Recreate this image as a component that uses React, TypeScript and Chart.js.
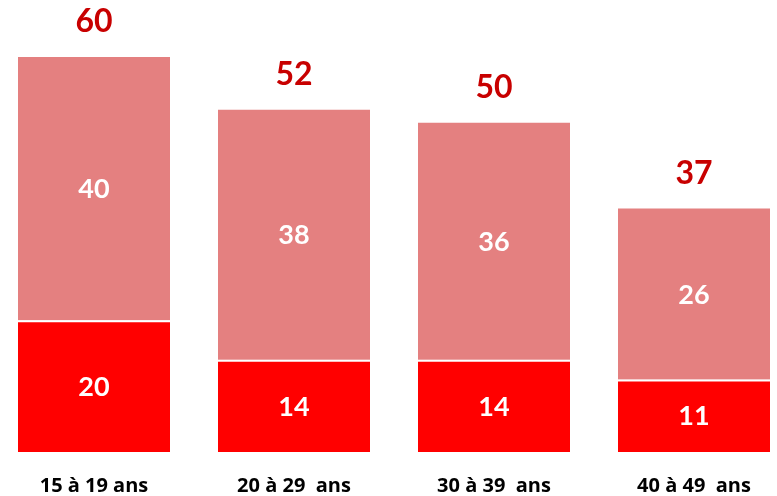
import React, { useEffect, useRef } from "react";
import { Chart, registerables } from "chart.js";

Chart.register(...registerables);

const categories = ["15 à 19 ans", "20 à 29  ans", "30 à 39  ans", "40 à 49  ans"];
const lowerValues = [20, 14, 14, 11];
const upperValues = [40, 38, 36, 26];

const FONT = "Lato, 'Open Sans', sans-serif";
const CAT_FONT = "'Open Sans', Lato, sans-serif";

const labelPlugin = {
  id: "valueLabels",
  afterDatasetsDraw(chart: any) {
    const ctx = chart.ctx;
    ctx.save();
    ctx.textAlign = "center";
    ctx.textBaseline = "middle";
    chart.data.datasets.forEach((ds: any, di: number) => {
      const meta = chart.getDatasetMeta(di);
      meta.data.forEach((bar: any, i: number) => {
        const v = ds.data[i].y;
        const cy = (bar.y + bar.base) / 2;
        ctx.fillStyle = "#ffffff";
        ctx.font = `bold 27px ${FONT}`;
        ctx.fillText(String(v), bar.x, cy + 1);
      });
    });
    const topMeta = chart.getDatasetMeta(1);
    topMeta.data.forEach((bar: any, i: number) => {
      const total = lowerValues[i] + upperValues[i];
      ctx.fillStyle = "#C80000";
      ctx.font = `bold 32px ${FONT}`;
      ctx.fillText(String(total), bar.x, bar.y - 35);
    });
    ctx.restore();
  },
};

export default function App() {
  const ref = useRef<HTMLCanvasElement>(null);
  useEffect(() => {
    if (!ref.current) return;
    const chart = new Chart(ref.current, {
      type: "bar",
      data: {
        datasets: [
          {
            label: "lower",
            data: lowerValues.map((y, i) => ({ x: i, y })),
            backgroundColor: "#FF0000",
            borderColor: "#FFFFFF",
            borderWidth: { top: 2, left: 0, right: 0, bottom: 0 },
            borderSkipped: false,
            barPercentage: 0.76,
            categoryPercentage: 1,
          },
          {
            label: "upper",
            data: upperValues.map((y, i) => ({ x: i, y })),
            backgroundColor: "#E48080",
            borderWidth: 0,
            barPercentage: 0.76,
            categoryPercentage: 1,
          },
        ],
      },
      options: {
        animation: false,
        responsive: false,
        maintainAspectRatio: false,
        layout: { padding: { top: 0, bottom: 0, left: 0, right: 0 } },
        plugins: { legend: { display: false }, tooltip: { enabled: false } },
        scales: {
          x: {
            type: "linear",
            stacked: true,
            min: -0.47,
            max: 3.415,
            offset: false,
            grid: { display: false },
            border: { display: false },
            afterBuildTicks: (axis: any) => {
              axis.ticks = categories.map((_, i) => ({ value: i }));
            },
            afterFit: (axis: any) => {
              axis.height = 44;
            },
            ticks: {
              autoSkip: false,
              maxRotation: 0,
              padding: 14,
              color: "#000000",
              font: { family: CAT_FONT, weight: "bold", size: 20 },
              callback: (v: any) => categories[Math.round(Number(v))] ?? "",
            },
          },
          y: {
            stacked: true,
            min: 0,
            max: 68.66,
            display: false,
          },
        },
      },
      plugins: [labelPlugin],
    });
    return () => chart.destroy();
  }, []);
  return (
    <div style={{ position: "fixed", left: 0, top: 0, width: 777, height: 496, background: "#fff" }}>
      <canvas ref={ref} width={777} height={496} style={{ width: 777, height: 496 }} />
    </div>
  );
}
